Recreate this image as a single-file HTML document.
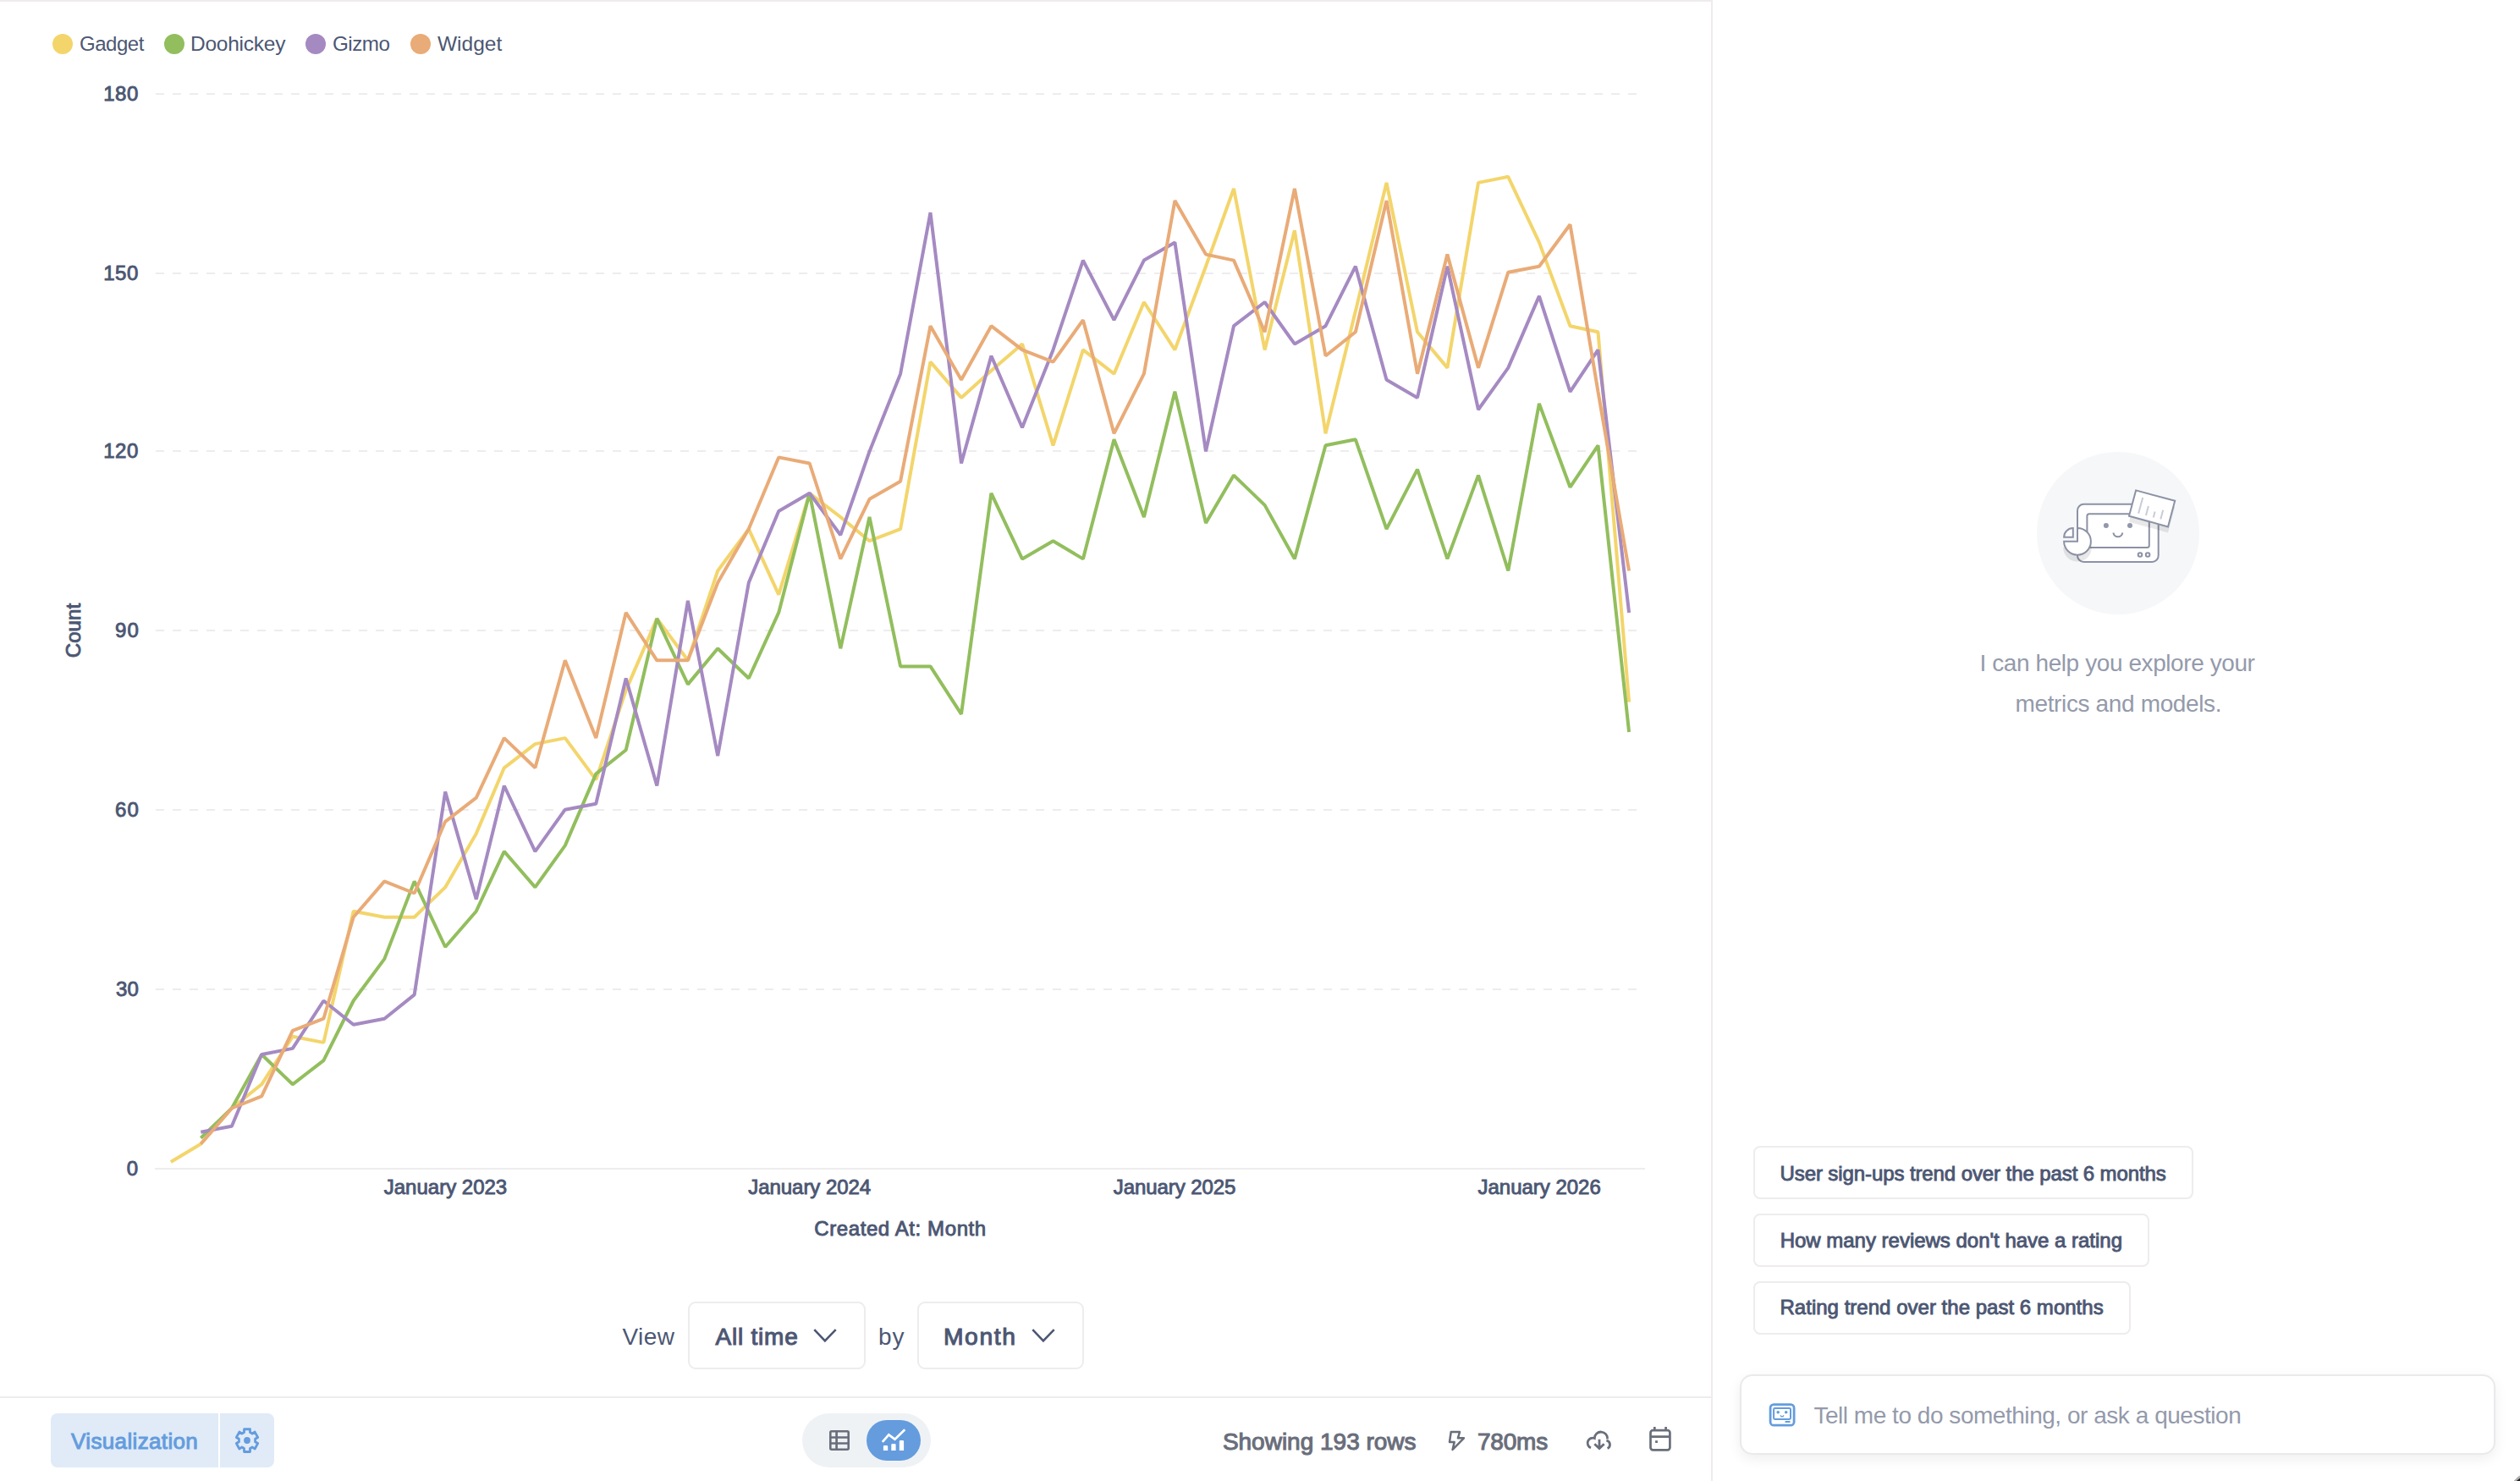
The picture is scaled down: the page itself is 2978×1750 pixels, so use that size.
<!DOCTYPE html><html><head><meta charset="utf-8"><title>Orders by category</title><style>
html,body{margin:0;padding:0}
body{width:2978px;height:1750px;position:relative;overflow:hidden;background:#fff;font-family:'Liberation Sans', sans-serif}
.t{position:absolute;white-space:nowrap}
.abs{position:absolute}
.chart{position:absolute;left:0;top:0}
.dot{position:absolute;top:40px;width:24px;height:24px;border-radius:50%}
.sel{position:absolute;top:1538px;height:76px;border:2px solid #EEECEC;border-radius:9px;background:#fff;box-sizing:content-box}
.sug{position:absolute;left:2072px;height:59px;border:2px solid #EEECEC;border-radius:8px;background:#fff}
svg{overflow:visible}

</style></head><body>
<div class="abs" style="left:0;top:0;width:2022px;height:2px;background:#EEECEC"></div>
<div class="abs" style="left:2022px;top:0;width:2px;height:1750px;background:#EEECEC"></div>
<div class="abs" style="left:0;top:1650px;width:2022px;height:2px;background:#EEECEC"></div>
<svg class="chart" width="2022" height="1500" viewBox="0 0 2022 1500">
<line x1="184" x2="1944" y1="111" y2="111" stroke="#EEECEC" stroke-width="2" stroke-dasharray="10 10"/>
<line x1="184" x2="1944" y1="323" y2="323" stroke="#EEECEC" stroke-width="2" stroke-dasharray="10 10"/>
<line x1="184" x2="1944" y1="533" y2="533" stroke="#EEECEC" stroke-width="2" stroke-dasharray="10 10"/>
<line x1="184" x2="1944" y1="745" y2="745" stroke="#EEECEC" stroke-width="2" stroke-dasharray="10 10"/>
<line x1="184" x2="1944" y1="957" y2="957" stroke="#EEECEC" stroke-width="2" stroke-dasharray="10 10"/>
<line x1="184" x2="1944" y1="1169" y2="1169" stroke="#EEECEC" stroke-width="2" stroke-dasharray="10 10"/>
<rect x="183" y="1380" width="1761" height="2" fill="#EEECEC"/>
<polyline points="201.9,1373.0 237.3,1351.8 273.9,1309.5 309.2,1281.3 345.8,1224.8 382.4,1231.9 417.7,1076.7 454.3,1083.7 489.7,1083.7 526.2,1048.4 562.8,984.9 595.8,907.3 632.4,879.1 667.8,872.1 704.3,921.4 739.7,815.6 776.3,730.9 812.9,780.3 848.2,674.5 884.8,625.1 920.2,702.7 956.7,582.8 993.3,611.0 1027.5,639.2 1064.1,625.1 1099.5,427.6 1136.0,469.9 1171.4,438.1 1208.0,406.4 1244.5,526.3 1279.9,413.4 1316.5,441.7 1351.9,357.0 1388.4,413.4 1425.0,314.7 1458.0,222.9 1494.6,413.4 1529.9,272.3 1566.5,512.2 1601.9,367.6 1638.5,215.9 1675.0,392.3 1710.4,434.6 1747.0,215.9 1782.3,208.8 1818.9,286.4 1855.5,385.2 1888.5,392.3 1925.1,829.7" fill="none" stroke="#F3D56B" stroke-width="4" stroke-linejoin="bevel"/>
<polyline points="237.3,1344.8 273.9,1309.5 309.2,1246.0 345.8,1281.3 382.4,1253.1 417.7,1182.5 454.3,1133.1 489.7,1041.4 526.2,1119.0 562.8,1076.7 595.8,1006.1 632.4,1048.4 667.8,999.1 704.3,914.4 739.7,886.2 776.3,730.9 812.9,808.6 848.2,766.2 884.8,801.5 920.2,723.9 956.7,582.8 993.3,766.2 1027.5,611.0 1064.1,787.4 1099.5,787.4 1136.0,843.8 1171.4,582.8 1208.0,660.4 1244.5,639.2 1279.9,660.4 1316.5,519.3 1351.9,611.0 1388.4,462.8 1425.0,618.1 1458.0,561.6 1494.6,596.9 1529.9,660.4 1566.5,526.3 1601.9,519.3 1638.5,625.1 1675.0,554.6 1710.4,660.4 1747.0,561.6 1782.3,674.5 1818.9,476.9 1855.5,575.7 1888.5,526.3 1925.1,865.0" fill="none" stroke="#92BE5D" stroke-width="4" stroke-linejoin="bevel"/>
<polyline points="237.3,1337.7 273.9,1330.7 309.2,1246.0 345.8,1238.9 382.4,1182.5 417.7,1210.7 454.3,1203.7 489.7,1175.4 526.2,935.6 562.8,1062.6 595.8,928.5 632.4,1006.1 667.8,956.7 704.3,949.7 739.7,801.5 776.3,928.5 812.9,709.8 848.2,893.2 884.8,688.6 920.2,603.9 956.7,582.8 993.3,632.2 1027.5,533.4 1064.1,441.7 1099.5,251.2 1136.0,547.5 1171.4,420.5 1208.0,505.2 1244.5,413.4 1279.9,307.6 1316.5,378.2 1351.9,307.6 1388.4,286.4 1425.0,533.4 1458.0,385.2 1494.6,357.0 1529.9,406.4 1566.5,385.2 1601.9,314.7 1638.5,448.7 1675.0,469.9 1710.4,314.7 1747.0,484.0 1782.3,434.6 1818.9,349.9 1855.5,462.8 1888.5,413.4 1925.1,723.9" fill="none" stroke="#A58AC2" stroke-width="4" stroke-linejoin="bevel"/>
<polyline points="237.3,1351.8 273.9,1309.5 309.2,1295.4 345.8,1217.8 382.4,1203.7 417.7,1083.7 454.3,1041.4 489.7,1055.5 526.2,970.8 562.8,942.6 595.8,872.1 632.4,907.3 667.8,780.3 704.3,872.1 739.7,723.9 776.3,780.3 812.9,780.3 848.2,688.6 884.8,625.1 920.2,540.4 956.7,547.5 993.3,660.4 1027.5,589.8 1064.1,568.7 1099.5,385.2 1136.0,448.7 1171.4,385.2 1208.0,413.4 1244.5,427.6 1279.9,378.2 1316.5,512.2 1351.9,441.7 1388.4,237.1 1425.0,300.6 1458.0,307.6 1494.6,392.3 1529.9,222.9 1566.5,420.5 1601.9,392.3 1638.5,237.1 1675.0,441.7 1710.4,300.6 1747.0,434.6 1782.3,321.7 1818.9,314.7 1855.5,265.3 1888.5,462.8 1925.1,674.5" fill="none" stroke="#E9AB77" stroke-width="4" stroke-linejoin="bevel"/>
</svg>
<div class="dot" style="left:62px;background:#F3D56B"></div>
<div class="dot" style="left:194px;background:#92BE5D"></div>
<div class="dot" style="left:361px;background:#A58AC2"></div>
<div class="dot" style="left:485px;background:#E9AB77"></div>
<div class="t" style="left:94.02px;top:36.26px;font:400 24.5px/32px 'Liberation Sans', sans-serif;letter-spacing:-0.500px;color:#4C5773;transform:scaleX(0.9804);transform-origin:0 50%;">Gadget</div>
<div class="t" style="left:225.00px;top:36.26px;font:400 24.5px/32px 'Liberation Sans', sans-serif;letter-spacing:-0.250px;color:#4C5773;">Doohickey</div>
<div class="t" style="left:392.76px;top:36.26px;font:400 24.5px/32px 'Liberation Sans', sans-serif;letter-spacing:-0.500px;color:#4C5773;transform:scaleX(0.9888);transform-origin:0 50%;">Gizmo</div>
<div class="t" style="left:517.00px;top:36.26px;font:400 24.5px/32px 'Liberation Sans', sans-serif;letter-spacing:0.000px;color:#4C5773;">Widget</div>
<div class="t" style="left:122.25px;top:95.28px;font:400 24px/32px 'Liberation Sans', sans-serif;-webkit-text-stroke:0.91px currentColor;letter-spacing:0.500px;color:#4C5773;">180</div>
<div class="t" style="left:122.25px;top:307.28px;font:400 24px/32px 'Liberation Sans', sans-serif;-webkit-text-stroke:0.91px currentColor;letter-spacing:0.500px;color:#4C5773;">150</div>
<div class="t" style="left:122.25px;top:517.28px;font:400 24px/32px 'Liberation Sans', sans-serif;-webkit-text-stroke:0.91px currentColor;letter-spacing:0.500px;color:#4C5773;">120</div>
<div class="t" style="left:136.00px;top:729.28px;font:400 24px/32px 'Liberation Sans', sans-serif;-webkit-text-stroke:0.91px currentColor;letter-spacing:1.250px;color:#4C5773;">90</div>
<div class="t" style="left:136.00px;top:941.28px;font:400 24px/32px 'Liberation Sans', sans-serif;-webkit-text-stroke:0.91px currentColor;letter-spacing:1.250px;color:#4C5773;">60</div>
<div class="t" style="left:137.00px;top:1153.28px;font:400 24px/32px 'Liberation Sans', sans-serif;-webkit-text-stroke:0.91px currentColor;letter-spacing:0.250px;color:#4C5773;">30</div>
<div class="t" style="left:149.75px;top:1365.28px;font:400 24px/32px 'Liberation Sans', sans-serif;-webkit-text-stroke:0.91px currentColor;letter-spacing:0.000px;color:#4C5773;">0</div>
<div class="t" style="left:37.2px;top:728.75px;width:100px;height:32px;text-align:center;font:400 24px/32px 'Liberation Sans', sans-serif;-webkit-text-stroke:0.91px currentColor;letter-spacing:0.1px;color:#4C5773;transform:rotate(-90deg)">Count</div>
<div class="t" style="left:453.75px;top:1387.43px;font:400 24px/32px 'Liberation Sans', sans-serif;-webkit-text-stroke:0.91px currentColor;letter-spacing:0.000px;color:#4C5773;">January 2023</div>
<div class="t" style="left:884.25px;top:1387.43px;font:400 24px/32px 'Liberation Sans', sans-serif;-webkit-text-stroke:0.91px currentColor;letter-spacing:-0.045px;color:#4C5773;">January 2024</div>
<div class="t" style="left:1315.75px;top:1387.43px;font:400 24px/32px 'Liberation Sans', sans-serif;-webkit-text-stroke:0.91px currentColor;letter-spacing:-0.068px;color:#4C5773;">January 2025</div>
<div class="t" style="left:1746.50px;top:1387.43px;font:400 24px/32px 'Liberation Sans', sans-serif;-webkit-text-stroke:0.91px currentColor;letter-spacing:-0.018px;color:#4C5773;">January 2026</div>
<div class="t" style="left:962.25px;top:1435.68px;font:400 24px/32px 'Liberation Sans', sans-serif;-webkit-text-stroke:0.91px currentColor;letter-spacing:0.594px;color:#4C5773;">Created At: Month</div>
<div class="t" style="left:735.50px;top:1560.70px;font:400 28px/37px 'Liberation Sans', sans-serif;letter-spacing:0.433px;color:#4C5773;">View</div>
<div class="sel" style="left:813px;width:206px"></div>
<div class="t" style="left:845.50px;top:1560.70px;font:400 28px/37px 'Liberation Sans', sans-serif;-webkit-text-stroke:1.06px currentColor;letter-spacing:0.786px;color:#4C5773;">All time</div>
<svg class="abs" style="left:955px;top:1562px" width="40" height="32"><polyline points="7.3,9.1 19.9,22.4 32.7,9.1" fill="none" stroke="#4C5773" stroke-width="2.6"/></svg>
<div class="t" style="left:1038.00px;top:1560.70px;font:400 28px/37px 'Liberation Sans', sans-serif;letter-spacing:1.000px;color:#4C5773;">by</div>
<div class="sel" style="left:1084px;width:193px"></div>
<div class="t" style="left:1115.49px;top:1560.70px;font:400 28px/37px 'Liberation Sans', sans-serif;-webkit-text-stroke:1.06px currentColor;letter-spacing:1.600px;color:#4C5773;transform:scaleX(1.0074);transform-origin:0 50%;">Month</div>
<svg class="abs" style="left:1213.3px;top:1562px" width="40" height="32"><polyline points="7.3,9.1 19.9,22.4 32.7,9.1" fill="none" stroke="#4C5773" stroke-width="2.6"/></svg>
<div class="abs" style="left:60px;top:1670px;width:198px;height:64px;background:#E0EBF7;border-radius:8px 0 0 8px"></div>
<div class="abs" style="left:260px;top:1670px;width:64px;height:64px;background:#E0EBF7;border-radius:0 8px 8px 0"></div>
<div class="t" style="left:84.10px;top:1686.49px;font:400 26px/34px 'Liberation Sans', sans-serif;-webkit-text-stroke:0.99px currentColor;letter-spacing:0.350px;color:#649CDE;">Visualization</div>
<svg class="abs" style="left:260px;top:1670px" width="64" height="64"><path d="M28.52 22.94 L28.50 19.38 L35.50 19.38 L35.48 22.94 L38.10 24.46 L41.18 22.66 L44.68 28.72 L41.58 30.48 L41.58 33.52 L44.68 35.28 L41.18 41.34 L38.10 39.54 L35.48 41.06 L35.50 44.62 L28.50 44.62 L28.52 41.06 L25.90 39.54 L22.82 41.34 L19.32 35.28 L22.42 33.52 L22.42 30.48 L19.32 28.72 L22.82 22.66 L25.90 24.46Z" transform="translate(0 -1.9) scale(1 1.06)" fill="none" stroke="#649CDE" stroke-width="2.8" stroke-linejoin="round"/><circle cx="32" cy="32" r="3.9" fill="#649CDE"/></svg>
<div class="abs" style="left:948px;top:1670px;width:152px;height:64px;border-radius:32px;background:#EFF2F5"></div>
<div class="abs" style="left:1024px;top:1678px;width:64px;height:48px;border-radius:24px;background:#649CDE"></div>
<svg class="abs" style="left:980px;top:1690px" width="24" height="24" viewBox="0 0 24 24"><rect x="1.3" y="1.3" width="21.4" height="21.4" rx="1.4" fill="none" stroke="#696E7B" stroke-width="2.6"/><path d="M8.6 1.3V22.7M1.3 8.5H22.7M1.3 15.5H22.7" stroke="#696E7B" stroke-width="2.7" fill="none"/></svg>
<svg class="abs" style="left:1040px;top:1686px" width="32" height="32" viewBox="1040 1686 32 32"><polyline points="1042.8,1703.8 1050.3,1695.4 1057.5,1700.7 1069.3,1689.2" fill="none" stroke="#fff" stroke-width="2.7"/><path d="M1043.9 1714V1709.2a1.2 1.2 0 0 1 1.2-1.2h2.9a1.2 1.2 0 0 1 1.2 1.2V1714ZM1053.3 1714V1707.2a1.2 1.2 0 0 1 1.2-1.2h2.9a1.2 1.2 0 0 1 1.2 1.2V1714ZM1062.8 1714V1703.2a1.2 1.2 0 0 1 1.2-1.2h2.9a1.2 1.2 0 0 1 1.2 1.2V1714Z" fill="#fff"/></svg>
<div class="t" style="left:1444.90px;top:1684.60px;font:400 28px/37px 'Liberation Sans', sans-serif;-webkit-text-stroke:1.06px currentColor;letter-spacing:-0.007px;color:#696E7B;">Showing 193 rows</div>
<svg class="abs" style="left:1706px;top:1686px" width="32" height="32" viewBox="1706 1686 32 32"><path d="M1714.7 1692.1H1725L1722.9 1699.3H1729.9L1716.6 1713L1718.7 1703.9H1713Z" fill="none" stroke="#696E7B" stroke-width="2.5" stroke-linejoin="round"/></svg>
<div class="t" style="left:1745.90px;top:1684.70px;font:400 28px/37px 'Liberation Sans', sans-serif;-webkit-text-stroke:1.06px currentColor;letter-spacing:-0.175px;color:#696E7B;">780ms</div>
<svg class="abs" style="left:1860px;top:1675px" width="60" height="50" viewBox="0 0 60 50"><path d="M20 35.8A5.7 5.7 0 0 1 24.3 24.5A7.62 7.62 0 1 1 39.5 25.4M38.4 27.2A4.9 4.9 0 0 1 39.6 36.5" fill="none" stroke="#696E7B" stroke-width="2.8" stroke-linecap="butt"/><path d="M30 25.8V36M24.3 31.3L30 36.6L35.7 31.3" fill="none" stroke="#696E7B" stroke-width="2.8"/></svg>
<svg class="abs" style="left:1944px;top:1682px" width="36" height="36" viewBox="1944 1682 36 36"><rect x="1950.5" y="1690.2" width="22.9" height="23.2" rx="2.8" fill="none" stroke="#696E7B" stroke-width="2.7"/><path d="M1950.5 1697.6H1973.4M1955.3 1686.1V1690M1968.6 1686.1V1690" stroke="#696E7B" stroke-width="2.7" fill="none"/><rect x="1956.1" y="1702.2" width="2.8" height="2.8" fill="#696E7B"/></svg>
<div class="abs" style="left:2407px;top:534px;width:192px;height:192px;border-radius:50%;background:#F6F7F9"></div>
<svg class="abs" style="left:2407px;top:534px" width="192" height="192" viewBox="2407 534 192 192">
<rect x="2455" y="595.8" width="95.7" height="68.2" rx="7.5" fill="#fff" stroke="#8C92A5" stroke-width="2"/>
<rect x="2466.4" y="607.2" width="73.4" height="39.8" rx="2.5" fill="#fff" stroke="#8C92A5" stroke-width="2"/>
<circle cx="2488.9" cy="620.9" r="3" fill="#9298AB"/><circle cx="2517" cy="620.9" r="3" fill="#9298AB"/>
<path d="M2497.4 629.5A5.5 5.5 0 0 0 2508.3 629.5" fill="none" stroke="#8C92A5" stroke-width="2"/>
<circle cx="2529" cy="655.5" r="2.3" fill="#fff" stroke="#8C92A5" stroke-width="2"/><circle cx="2538.1" cy="655.5" r="2.3" fill="#fff" stroke="#8C92A5" stroke-width="2"/>
<path d="M2455 629.8A16.9 16.9 0 1 1 2438.1 646.7H2455Z" fill="#000" fill-opacity="0.09"/>
<polygon points="2524.1,586.4 2570.2,598.8 2562,629.4 2516,616.7" fill="#000" fill-opacity="0.09"/>
<path d="M2455 623.9A15.9 15.9 0 1 1 2439.1 639.8H2455Z" fill="#fff" stroke="#8C92A5" stroke-width="2" stroke-linejoin="miter"/>
<path d="M2449.8 634.8H2439.1A10.7 10.7 0 0 1 2449.8 624.1Z" fill="#fff" stroke="#8C92A5" stroke-width="2" stroke-linejoin="miter"/>
<polygon points="2524.1,579.4 2570.2,591.8 2562,622.4 2516,609.7" fill="#fff" stroke="#8C92A5" stroke-width="2"/>
<path d="M2532.2 588L2527.1 606.8M2538.9 597.9L2536 609M2546.6 604.4L2544.8 611.5M2556.2 602.8L2553.3 613.5" stroke="#C9CCD6" stroke-width="2" fill="none"/>
</svg>
<div class="t" style="left:2339.50px;top:764.80px;font:400 28px/37px 'Liberation Sans', sans-serif;letter-spacing:-0.415px;color:#949AAB;">I can help you explore your</div>
<div class="t" style="left:2381.50px;top:812.80px;font:400 28px/37px 'Liberation Sans', sans-serif;letter-spacing:-0.361px;color:#949AAB;">metrics and models.</div>
<div class="sug" style="top:1354px;width:516px"></div>
<div class="t" style="left:2103.50px;top:1370.58px;font:400 24px/32px 'Liberation Sans', sans-serif;-webkit-text-stroke:0.91px currentColor;letter-spacing:-0.095px;color:#4C5773;">User sign-ups trend over the past 6 months</div>
<div class="sug" style="top:1434px;width:464px"></div>
<div class="t" style="left:2103.70px;top:1449.98px;font:400 24px/32px 'Liberation Sans', sans-serif;-webkit-text-stroke:0.91px currentColor;letter-spacing:-0.014px;color:#4C5773;">How many reviews don't have a rating</div>
<div class="sug" style="top:1513.5px;width:442px"></div>
<div class="t" style="left:2103.50px;top:1529.38px;font:400 24px/32px 'Liberation Sans', sans-serif;-webkit-text-stroke:0.91px currentColor;letter-spacing:0.018px;color:#4C5773;">Rating trend over the past 6 months</div>
<div class="abs" style="left:2056px;top:1624px;width:889px;height:91px;border:2px solid #EAE9EB;border-radius:15px;background:#fff;box-shadow:0 5px 16px rgba(0,0,0,0.065)"></div>
<svg class="abs" style="left:2086px;top:1654px" width="40" height="36" viewBox="2086 1654 40 36"><rect x="2092.1" y="1659.6" width="28" height="24.6" rx="4" fill="none" stroke="#649CDE" stroke-width="2.8"/><rect x="2096.1" y="1664.1" width="19.9" height="12.8" rx="1.3" fill="none" stroke="#649CDE" stroke-width="2"/><circle cx="2101.2" cy="1668.7" r="1.8" fill="#649CDE"/><circle cx="2110.7" cy="1668.7" r="1.8" fill="#649CDE"/><path d="M2104.2 1672.2A1.8 1.8 0 0 0 2107.8 1672.2" fill="none" stroke="#649CDE" stroke-width="1.3"/><rect x="2109.5" y="1679.1" width="6.1" height="1.9" rx="0.6" fill="#649CDE"/></svg>
<div class="t" style="left:2143.40px;top:1653.50px;font:400 28px/37px 'Liberation Sans', sans-serif;letter-spacing:-0.468px;color:#949AAB;">Tell me to do something, or ask a question</div>
<div class="abs" style="left:2970px;top:1743px;width:8px;height:7px;background:linear-gradient(to bottom right, rgba(255,255,255,0) 50%, #B0B0B0 52%, #B0B0B0 72%, #222 76%)"></div>
</body></html>
